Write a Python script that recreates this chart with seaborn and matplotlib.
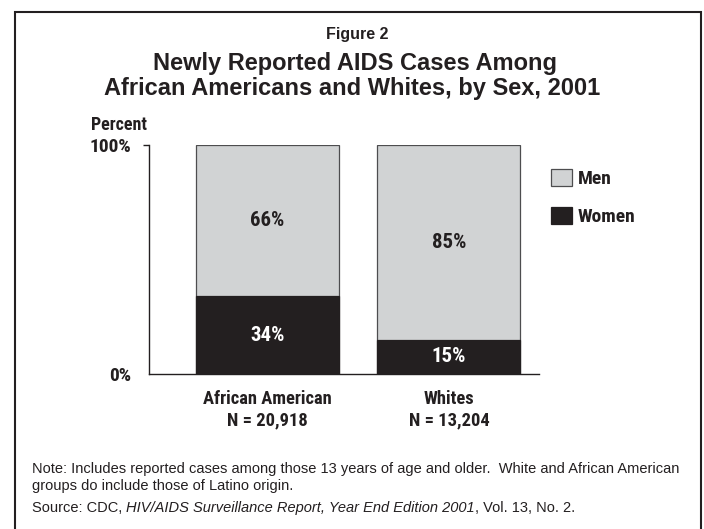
import matplotlib
matplotlib.use("Agg")
import matplotlib.pyplot as plt
from matplotlib.text import Annotation
import seaborn as sns
import pandas as pd
from matplotlib.patches import Patch, Rectangle

# ---- data ----
groups = ["African American", "Whites"]
n_labels = ["N = 20,918", "N = 13,204"]
men = [66, 85]
women = [34, 15]
series_names = ["Men", "Women"]
ytick_vals = [0, 100]
ytick_labels = ["0%", "100%"]

title_small = "Figure 2"
title_line1 = "Newly Reported AIDS Cases Among"
title_line2 = "African Americans and Whites, by Sex, 2001"
note_line1 = "Note: Includes reported cases among those 13 years of age and older.  White and African American"
note_line2 = "groups do include those of Latino origin."
source_parts = [("Source: CDC, ", "normal"),
                ("HIV/AIDS Surveillance Report, Year End Edition 2001", "italic"),
                (", Vol. 13, No. 2.", "normal")]

MEN_C = "#d1d3d4"
WOMEN_C = "#231f20"
INK = "#231f20"

sns.set_theme(style="white")
plt.rcParams["font.family"] = ["Liberation Sans", "DejaVu Sans"]
COND = ["Roboto Condensed", "Roboto", "DejaVu Sans"]

W, H = 704, 529
fig = plt.figure(figsize=(W / 100, H / 100), dpi=100)
fig.patch.set_facecolor("white")

def fx(px):
    return px / W

def fy(py):
    return 1 - py / H

ax = fig.add_axes([fx(149), fy(374), (539 - 149) / W, (374 - 145) / H])

df = pd.DataFrame({"group": groups, "men": men, "women": women})
df["total"] = df["men"] + df["women"]

sns.barplot(data=df, x="group", y="total", color=MEN_C, saturation=1,
            width=0.788, edgecolor="#4d4d4f", linewidth=0.9, ax=ax)
sns.barplot(data=df, x="group", y="women", color=WOMEN_C, saturation=1,
            width=0.788, edgecolor=WOMEN_C, linewidth=0.9, ax=ax)

ax.set_xlim(-0.653, 1.496)
ax.set_ylim(0, 100)
ax.set_xlabel("")
ax.set_ylabel("")

# segment labels
for i in range(len(groups)):
    ax.text(i, women[i] + men[i] / 2, f"{men[i]}%", ha="center", va="center",
            fontsize=15, fontweight="bold", color=INK, family=COND)
    ax.text(i, women[i] / 2, f"{women[i]}%", ha="center", va="center",
            fontsize=15, fontweight="bold", color="white", family=COND)

# axes styling
for s in ["top", "right"]:
    ax.spines[s].set_visible(False)
for s in ["left", "bottom"]:
    ax.spines[s].set_color(INK)
    ax.spines[s].set_linewidth(1.0)

ax.set_yticks(ytick_vals)
ax.set_yticklabels(ytick_labels, fontsize=14, fontweight="bold", family=COND, color=INK)
ax.tick_params(axis="y", length=4.5, width=1.0, color=INK, pad=8, left=True)
ax.yaxis.get_major_ticks()[0].tick1line.set_visible(False)
for lab in ax.get_yticklabels():
    lab.set_va("center_baseline")

ax.set_xticks(range(len(groups)))
ax.set_xticklabels([f"{g}\n{n}" for g, n in zip(groups, n_labels)],
                   fontsize=13.3, fontweight="bold", family=COND, color=INK,
                   linespacing=1.27)
ax.tick_params(axis="x", length=0, pad=11.5)

fig.text(fx(147), fy(125), "Percent", ha="right", va="center",
         fontsize=13, fontweight="bold", family=COND, color=INK)

# legend
handles = [Patch(facecolor=MEN_C, edgecolor="#4d4d4f", linewidth=0.9),
           Patch(facecolor=WOMEN_C, edgecolor=WOMEN_C, linewidth=0.9)]
fig.legend(handles, series_names, loc="upper left",
           bbox_to_anchor=(fx(551), fy(169)), frameon=False,
           prop={"family": COND, "weight": "bold", "size": 14},
           handlelength=1.08, handleheight=1.0, handletextpad=0.31,
           labelspacing=0.95, borderpad=0, borderaxespad=0,
           labelcolor=INK)

# titles
fig.text(fx(357.5), fy(35), title_small, ha="center", va="center",
         fontsize=11.5, fontweight="bold", color=INK)
fig.text(fx(355), fy(63.5), title_line1, ha="center", va="center",
         fontsize=17, fontweight="bold", color=INK)
fig.text(fx(352), fy(88.5), title_line2, ha="center", va="center",
         fontsize=17, fontweight="bold", color=INK)

# notes
NOTE_FS = 10.5
fig.text(fx(32), fy(469), note_line1, ha="left", va="center", fontsize=NOTE_FS, color=INK)
fig.text(fx(32), fy(486), note_line2, ha="left", va="center", fontsize=NOTE_FS, color=INK)
last = fig.text(fx(32), fy(508), source_parts[0][0], ha="left", va="center",
                fontsize=NOTE_FS, color=INK, style=source_parts[0][1])
for txt, st in source_parts[1:]:
    last = fig.add_artist(Annotation(
        txt, xy=(1, 0), xycoords=last, ha="left", va="bottom",
        fontsize=NOTE_FS, color=INK, style=st))

# frame (open at the bottom, continues past image edge)
frame = Rectangle((fx(15), -0.05), fx(701) - fx(15), fy(12) + 0.05,
                  transform=fig.transFigure, fill=False, edgecolor=INK,
                  linewidth=1.5)
fig.add_artist(frame)

fig.savefig("out.png", dpi=100, facecolor="white")
